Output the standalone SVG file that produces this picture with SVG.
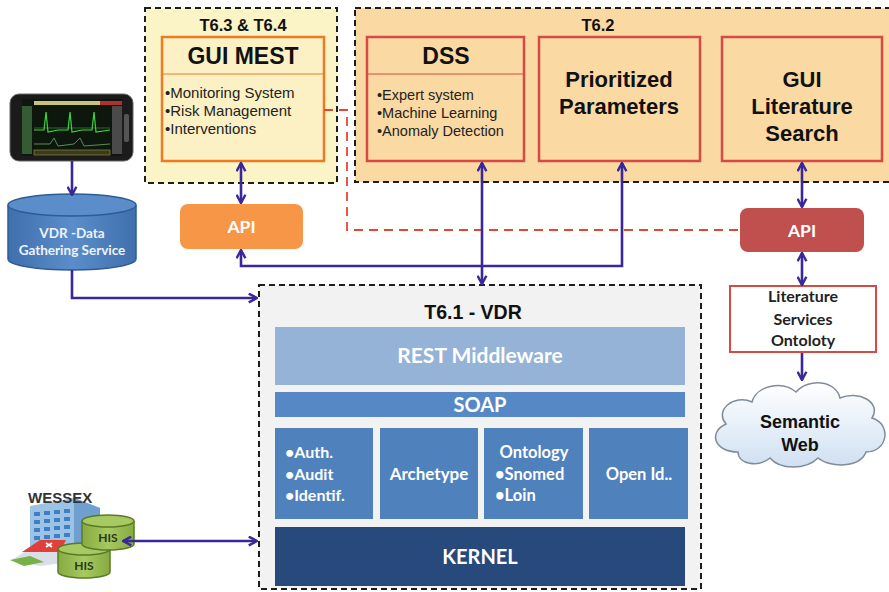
<svg xmlns="http://www.w3.org/2000/svg" width="889" height="592" viewBox="0 0 889 592">
  <defs>
    <style>
      .arial { font-family: "Liberation Sans", Arial, sans-serif; }
      .cal { font-family: Lato, "Open Sans", sans-serif; font-weight: 700; }
      .grp { stroke: #1e1e1e; stroke-width: 2; stroke-dasharray: 6 4; }
      .title { font-weight: 700; fill: #111; text-anchor: middle; }
      .bul { fill: #222; }
      .wtxt { fill: #ffffff; text-anchor: middle; }
      .conn { fill: none; stroke: #38289a; stroke-width: 2.6; }
      .tier { stroke: none; }
    </style>
    <marker id="arr" viewBox="0 0 10 10" refX="9" refY="5" markerWidth="11" markerHeight="11" markerUnits="userSpaceOnUse" orient="auto-start-reverse">
      <path d="M1.5,1 L9,5 L1.5,9" fill="none" stroke="#38289a" stroke-width="2.2"/>
    </marker>
    <linearGradient id="cloudFill" x1="0" y1="0" x2="0" y2="1">
      <stop offset="0" stop-color="#ffffff"/>
      <stop offset="1" stop-color="#cfe0f2"/>
    </linearGradient>
    <linearGradient id="cylFill" x1="0" y1="0" x2="1" y2="0">
      <stop offset="0" stop-color="#3f70ad"/>
      <stop offset="0.5" stop-color="#5b8dcb"/>
      <stop offset="1" stop-color="#3f70ad"/>
    </linearGradient>
    <linearGradient id="hisFill" x1="0" y1="0" x2="1" y2="0">
      <stop offset="0" stop-color="#86ab3f"/>
      <stop offset="0.5" stop-color="#a6c961"/>
      <stop offset="1" stop-color="#86ab3f"/>
    </linearGradient>
  </defs>

  <rect width="889" height="592" fill="#ffffff"/>

  <!-- work package groups -->
  <g id="t63-t64">
    <rect class="grp" x="145" y="8" width="192" height="175" fill="#fbf4c6"/>
    <text class="arial title" x="243" y="31" font-size="16.5">T6.3 &amp; T6.4</text>
  </g>
  <g id="t62">
    <rect class="grp" x="355" y="8" width="545" height="174" fill="#fbd9a3"/>
    <text class="arial title" x="598" y="31" font-size="16.5">T6.2</text>
  </g>

  <g id="gui-mest">
    <rect x="162" y="37" width="162" height="124" fill="#fcf1c4" stroke="#f07a22" stroke-width="2.5"/>
    <line x1="162" y1="74" x2="324" y2="74" stroke="#f07a22" stroke-width="1"/>
    <text class="arial title" x="243" y="64" font-size="23">GUI MEST</text>
    <text class="arial bul" x="165" y="98" font-size="15">•Monitoring System</text>
    <text class="arial bul" x="165" y="116" font-size="15">•Risk Management</text>
    <text class="arial bul" x="165" y="134" font-size="15">•Interventions</text>
  </g>

  <g id="dss">
    <rect x="367" y="37" width="157" height="124" fill="#fbd9a3" stroke="#d54a44" stroke-width="2.5"/>
    <line x1="367" y1="74" x2="524" y2="74" stroke="#d54a44" stroke-width="1"/>
    <text class="arial title" x="446" y="64" font-size="23">DSS</text>
    <text class="arial bul" x="377" y="100" font-size="14.5">•Expert system</text>
    <text class="arial bul" x="377" y="118" font-size="14.5">•Machine Learning</text>
    <text class="arial bul" x="377" y="136" font-size="14.5">•Anomaly Detection</text>
  </g>

  <g id="prioritized-parameters">
    <rect x="539" y="37" width="161" height="124" fill="#fbd9a3" stroke="#d54a44" stroke-width="2.5"/>
    <text class="arial title" x="619" y="87" font-size="22">Prioritized</text>
    <text class="arial title" x="619" y="114" font-size="22">Parameters</text>
  </g>

  <g id="gui-literature-search">
    <rect x="722" y="37" width="160" height="124" fill="#fbd9a3" stroke="#d54a44" stroke-width="2.5"/>
    <text class="arial title" x="802" y="87" font-size="22">GUI</text>
    <text class="arial title" x="802" y="114" font-size="22">Literature</text>
    <text class="arial title" x="802" y="141" font-size="22">Search</text>
  </g>

  <g id="api-left">
    <rect x="180" y="204" width="123" height="45" rx="8" fill="#f79646"/>
    <text class="cal wtxt" x="241.5" y="233" font-size="17.5">API</text>
  </g>

  <g id="api-right">
    <rect x="740" y="208" width="124" height="44" rx="8" fill="#c0504d"/>
    <text class="cal wtxt" x="802" y="237" font-size="17.5">API</text>
  </g>

  <g id="literature-services">
    <rect x="730" y="286" width="146" height="66" fill="#ffffff" stroke="#d54a44" stroke-width="2"/>
    <text class="cal" x="803" y="302" font-size="16" text-anchor="middle" fill="#222">Literature</text>
    <text class="cal" x="803" y="325" font-size="16" text-anchor="middle" fill="#222">Services</text>
    <text class="cal" x="803" y="346" font-size="16" text-anchor="middle" fill="#222">Ontoloty</text>
  </g>

  <g id="semantic-web">
    <path d="M738,452 C714,452 708,432 726,424 C714,410 734,394 752,402 C756,386 782,380 796,392 C808,378 836,380 840,398 C858,390 882,402 872,418 C892,424 888,452 866,452 C860,468 830,468 818,458 C806,470 780,470 770,458 C758,468 738,464 738,452 Z" fill="url(#cloudFill)" stroke="#7f8c99" stroke-width="1.5"/>
    <text class="arial title" x="800" y="428" font-size="18">Semantic</text>
    <text class="arial title" x="800" y="451" font-size="18">Web</text>
  </g>

  <g id="monitor-device">
    <rect x="10" y="94" width="123" height="67" rx="9" fill="#1b1b1b" stroke="#666" stroke-width="1"/>
    <rect x="22" y="99" width="100" height="57" fill="#0e170e"/>
    <rect x="34" y="101" width="66" height="4" fill="#c9c27a"/>
    <rect x="100" y="101" width="22" height="4" fill="#b03030"/>
    <rect x="22" y="106" width="10" height="48" fill="#355b35"/>
    <rect x="112" y="106" width="10" height="48" fill="#4a4a4a"/>
    <line x1="34" y1="128" x2="110" y2="128" stroke="#2e7d2e" stroke-width="0.8"/>
    <polyline points="34,130 44,130 46,112 48,132 58,130 68,130 70,112 72,132 82,130 92,130 94,112 96,132 110,130" fill="none" stroke="#3cd63c" stroke-width="1.2"/>
    <polyline points="34,144 50,144 54,138 58,146 74,144 80,138 84,146 110,144" fill="none" stroke="#6aa86a" stroke-width="0.8"/>
    <rect x="34" y="150" width="76" height="5" fill="#3a3a20" stroke="#a09a40" stroke-width="0.6"/>
    <rect x="124" y="114" width="5" height="28" rx="2" fill="#555"/>
  </g>

  <g id="vdr-data-gathering-service">
    <path d="M8,205 L8,259 A64,11 0 0 0 136,259 L136,205" fill="url(#cylFill)" stroke="#2f5c93" stroke-width="1.5"/>
    <ellipse cx="72" cy="205" rx="64" ry="11" fill="#5b8dcb" stroke="#2f5c93" stroke-width="1.5"/>
    <text class="cal" x="72" y="238" font-size="13.5" text-anchor="middle" fill="#eef3fa">VDR -Data</text>
    <text class="cal" x="72" y="255" font-size="13.5" text-anchor="middle" fill="#eef3fa">Gathering Service</text>
  </g>

  <g id="wessex">
    <!-- hospital building -->
    <polygon points="30,506 74,498 100,508 100,552 30,556" fill="#9cc3e6"/>
    <polygon points="74,498 100,508 100,552 74,548" fill="#6f9fcf"/>
    <g fill="#3d7fc0">
      <rect x="34" y="512" width="6" height="4"/><rect x="44" y="511" width="6" height="4"/><rect x="54" y="510" width="6" height="4"/><rect x="64" y="509" width="6" height="4"/>
      <rect x="34" y="520" width="6" height="4"/><rect x="44" y="519" width="6" height="4"/><rect x="54" y="518" width="6" height="4"/><rect x="64" y="517" width="6" height="4"/>
      <rect x="34" y="528" width="6" height="4"/><rect x="44" y="527" width="6" height="4"/><rect x="54" y="526" width="6" height="4"/><rect x="64" y="525" width="6" height="4"/>
      <rect x="34" y="536" width="6" height="4"/><rect x="44" y="535" width="6" height="4"/><rect x="54" y="534" width="6" height="4"/><rect x="64" y="533" width="6" height="4"/>
    </g>
    <polygon points="12,560 30,548 72,548 72,562 40,566" fill="#d8dfe6"/>
    <polygon points="22,552 40,540 66,540 60,552" fill="#e0403a"/>
    <path d="M46,543 L52,547 M52,543 L46,547" stroke="#ffffff" stroke-width="2"/>
    <polygon points="10,560 30,556 44,562 24,566" fill="#78b04a"/>
    <text class="arial" x="28" y="503" font-size="15" font-weight="700" fill="#333">WESSEX</text>
    <!-- HIS databases -->
    <path d="M58,549 L58,572 A26,6 0 0 0 110,572 L110,549" fill="url(#hisFill)" stroke="#5b7a26" stroke-width="1.5"/>
    <ellipse cx="84" cy="549" rx="26" ry="6" fill="#a6c961" stroke="#5b7a26" stroke-width="1.5"/>
    <text class="cal" x="84" y="570" font-size="12" text-anchor="middle" fill="#2a3a12">HIS</text>
    <path d="M82,521 L82,544 A26,6 0 0 0 134,544 L134,521" fill="url(#hisFill)" stroke="#5b7a26" stroke-width="1.5"/>
    <ellipse cx="108" cy="521" rx="26" ry="6" fill="#a6c961" stroke="#5b7a26" stroke-width="1.5"/>
    <text class="cal" x="108" y="542" font-size="12" text-anchor="middle" fill="#2a3a12">HIS</text>
  </g>

  <g id="t61-vdr">
    <rect class="grp" x="259" y="285" width="442" height="304" fill="#f2f2f2"/>
    <text class="arial title" x="473" y="319" font-size="19.5">T6.1 - VDR</text>
    <rect class="tier" x="275" y="327" width="410" height="58" fill="#95b3d7"/>
    <text class="cal wtxt" x="480" y="363" font-size="21">REST Middleware</text>
    <rect class="tier" x="275" y="392" width="410" height="25" fill="#5588c4"/>
    <text class="cal wtxt" x="480" y="412" font-size="20">SOAP</text>
    <rect class="tier" x="275" y="428" width="98" height="91" fill="#4f81bd"/>
    <text class="cal" x="285" y="458" font-size="16" fill="#fff">•Auth.</text>
    <text class="cal" x="285" y="480" font-size="16" fill="#fff">•Audit</text>
    <text class="cal" x="285" y="501" font-size="16" fill="#fff">•Identif.</text>
    <rect class="tier" x="380" y="428" width="98" height="91" fill="#4f81bd"/>
    <text class="cal wtxt" x="429" y="480" font-size="17">Archetype</text>
    <rect class="tier" x="484" y="428" width="99" height="91" fill="#4f81bd"/>
    <text class="cal wtxt" x="534" y="458" font-size="16.5">Ontology</text>
    <text class="cal" x="495" y="480" font-size="16.5" fill="#fff">•Snomed</text>
    <text class="cal" x="495" y="501" font-size="16.5" fill="#fff">•Loin</text>
    <rect class="tier" x="589" y="428" width="99" height="91" fill="#4f81bd"/>
    <text class="cal wtxt" x="639" y="480" font-size="16.5">Open Id..</text>
    <rect class="tier" x="275" y="527" width="410" height="59" fill="#27497c"/>
    <text class="cal wtxt" x="480" y="564" font-size="20">KERNEL</text>
  </g>

  <!-- connectors -->
  <g id="connectors">
    <path d="M324,110 L347,110 L347,230 L740,230" fill="none" stroke="#e4472f" stroke-width="1.8" stroke-dasharray="9 6"/>
    <path class="conn" d="M72,161 L72,195" marker-end="url(#arr)"/>
    <path class="conn" d="M72,270 L72,298 L257,298" marker-end="url(#arr)"/>
    <path class="conn" d="M241,163 L241,203" marker-start="url(#arr)" marker-end="url(#arr)"/>
    <path class="conn" d="M241,250 L241,266 L622,266 L622,163" marker-start="url(#arr)" marker-end="url(#arr)"/>
    <path class="conn" d="M482,163 L482,284" marker-start="url(#arr)" marker-end="url(#arr)"/>
    <path class="conn" d="M802,163 L802,207" marker-start="url(#arr)" marker-end="url(#arr)"/>
    <path class="conn" d="M802,253 L802,285" marker-start="url(#arr)" marker-end="url(#arr)"/>
    <path class="conn" d="M802,353 L802,380" marker-end="url(#arr)"/>
    <path class="conn" d="M123,541 L257,541" marker-start="url(#arr)" marker-end="url(#arr)"/>
  </g>
</svg>
